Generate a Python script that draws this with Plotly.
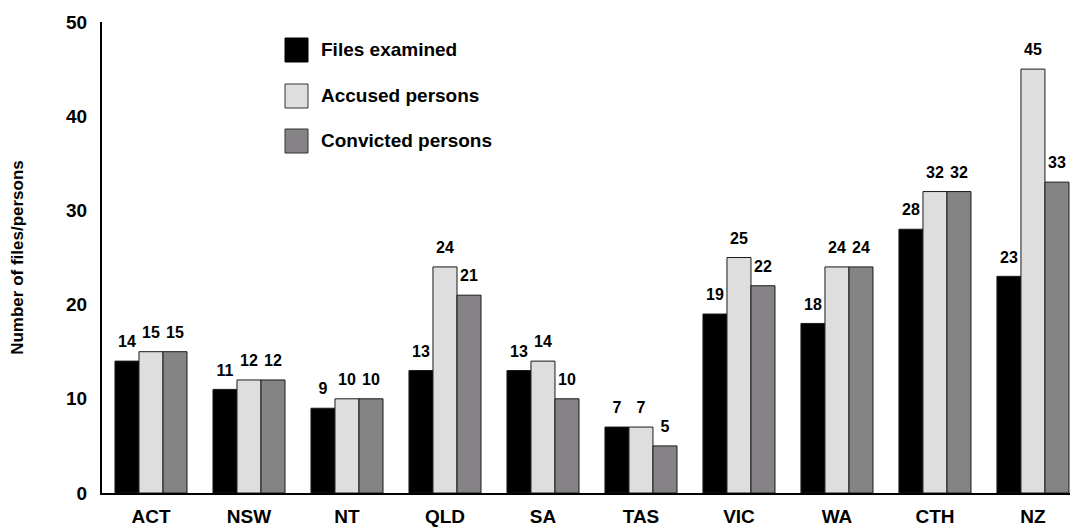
import plotly.graph_objects as go

categories = ["ACT", "NSW", "NT", "QLD", "SA", "TAS", "VIC", "WA", "CTH", "NZ"]
series_names = ["Files examined", "Accused persons", "Convicted persons"]
files_examined = [14, 11, 9, 13, 13, 7, 19, 18, 28, 23]
accused_persons = [15, 12, 10, 24, 14, 7, 25, 24, 32, 45]
convicted_persons = [15, 12, 10, 21, 10, 5, 22, 24, 32, 33]
y_ticks = [0, 10, 20, 30, 40, 50]

series_values = [files_examined, accused_persons, convicted_persons]
colors = ["#000000", "#dedede", "#858385"]

W, H = 1070, 529
ML, MR, MT, MB = 102, 0, 22, 36
BARGAP = 0.265
FONT = "Liberation Sans, Arial, sans-serif"

fig = go.Figure()
for name, vals, col in zip(series_names, series_values, colors):
    fig.add_trace(go.Bar(
        x=categories, y=vals, name=name,
        marker=dict(color=col, line=dict(color="#1a1a1a", width=1)),
        showlegend=False,
    ))
for name, vals in zip(series_names, series_values):
    fig.add_trace(go.Scatter(
        x=categories, y=vals, mode="markers+text",
        text=[str(v) for v in vals], textposition="top center",
        textfont=dict(family=FONT, size=16, color="black", weight="bold"),
        marker=dict(size=14, opacity=0), cliponaxis=False,
        showlegend=False, hoverinfo="skip",
    ))

# legend drawn in pixel terms converted to paper coordinates
pw, ph = W - ML - MR, H - MT - MB
def px(x):
    return (x - ML) / pw
def py(y):
    return 1 - (y - MT) / ph

shapes = []
annotations = []
legend_tops = [38, 84, 129]
for name, col, top in zip(series_names, colors, legend_tops):
    shapes.append(dict(type="rect", xref="paper", yref="paper",
                       x0=px(285), x1=px(308), y0=py(top + 24), y1=py(top),
                       fillcolor=col, line=dict(color="#333333" if col != "#000000" else "#000000", width=1)))
    annotations.append(dict(xref="paper", yref="paper", x=px(319), y=py(top + 12),
                            xanchor="left", yanchor="middle", showarrow=False,
                            text=name, font=dict(family=FONT, size=19, color="black", weight="bold")))

fig.update_layout(
    width=W, height=H,
    margin=dict(l=ML, r=MR, t=MT, b=MB, autoexpand=False),
    paper_bgcolor="white", plot_bgcolor="white",
    barmode="group", bargap=BARGAP, bargroupgap=0,
    scattermode="group", scattergap=BARGAP,
    shapes=shapes, annotations=annotations,
    showlegend=False,
    font=dict(family=FONT, color="black"),
)
fig.update_xaxes(
    type="category", range=[-0.5, 9.378],
    showline=True, linecolor="black", linewidth=2, showgrid=False,
    ticks="", tickfont=dict(family=FONT, size=19, color="black", weight="bold"),
    ticklabelstandoff=5, zeroline=False,
)
fig.update_yaxes(
    range=[0, 50], tickvals=y_ticks,
    showline=True, linecolor="black", linewidth=2, showgrid=False, zeroline=False,
    ticks="", tickfont=dict(family=FONT, size=19, color="black", weight="bold"),
    ticklabelstandoff=9,
    title=dict(text="Number of files/persons", standoff=38,
               font=dict(family=FONT, size=17, color="black", weight="bold")),
)

fig.write_html("out.html", config={"displayModeBar": False},
               post_script="document.body.style.margin='0';")
